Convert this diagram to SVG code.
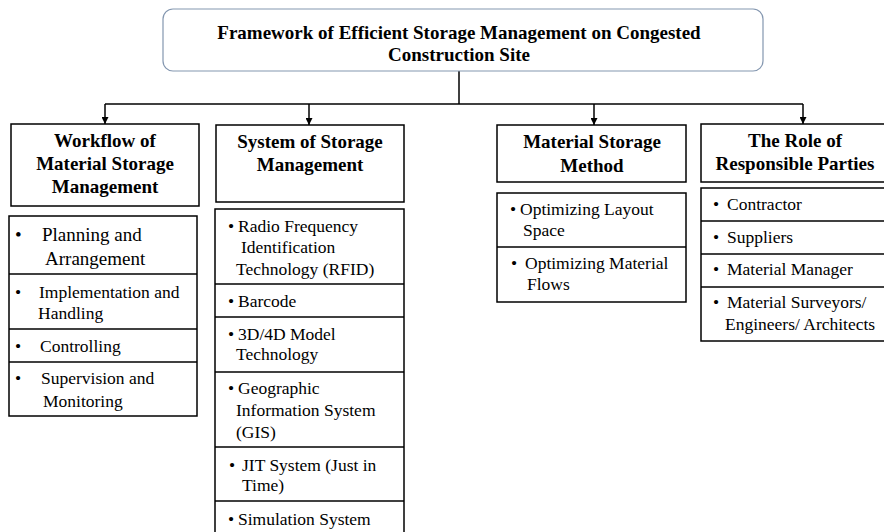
<svg xmlns="http://www.w3.org/2000/svg" width="884" height="532" viewBox="0 0 884 532">
<defs>
<style>
.box{fill:#fff;stroke:#000;stroke-width:1.5}
.top{fill:#fff;stroke:#8497b0;stroke-width:1.2}
.div{stroke:#000;stroke-width:1.5}
.hd{font-family:"Liberation Serif","Times New Roman",serif;font-weight:bold;font-size:19px;fill:#000;text-anchor:middle}
.it{font-family:"Liberation Serif","Times New Roman",serif;font-size:17.5px;fill:#000}
.big{font-size:19px}
.con{stroke:#000;stroke-width:1.5;fill:none}
</style>
<marker id="ah" viewBox="0 0 10 10" refX="10" refY="5" markerWidth="7" markerHeight="7" markerUnits="userSpaceOnUse" orient="auto">
<path d="M0,0 L10,5 L0,10 z" fill="#000"/>
</marker>
</defs>
<rect width="884" height="532" fill="#fff"/>

<g id="connectors">
<line class="con" x1="459" y1="71" x2="459" y2="104"/>
<line class="con" x1="105" y1="104" x2="803" y2="104"/>
<line class="con" x1="105" y1="104" x2="105" y2="124" marker-end="url(#ah)"/>
<line class="con" x1="309" y1="104" x2="309" y2="125" marker-end="url(#ah)"/>
<line class="con" x1="594" y1="104" x2="594" y2="125" marker-end="url(#ah)"/>
<line class="con" x1="803" y1="104" x2="803" y2="124" marker-end="url(#ah)"/>
</g>

<g id="title">
<rect class="top" x="163" y="9" width="600" height="62" rx="10"/>
<text class="hd" x="459" y="39">Framework of Efficient Storage Management on Congested</text>
<text class="hd" x="459" y="61">Construction Site</text>
</g>

<g id="workflow">
<rect class="box" x="11" y="124" width="188" height="82"/>
<text class="hd" x="105" y="147">Workflow of</text>
<text class="hd" x="105" y="170">Material Storage</text>
<text class="hd" x="105" y="193">Management</text>
</g>
<g id="workflow-items">
<rect class="box" x="9" y="216" width="188" height="200"/>
<line class="div" x1="9" y1="274" x2="197" y2="274"/>
<line class="div" x1="9" y1="329" x2="197" y2="329"/>
<line class="div" x1="9" y1="362" x2="197" y2="362"/>
<text class="it big" y="241"><tspan x="15">•</tspan><tspan x="42">Planning and</tspan></text>
<text class="it big" x="45" y="265">Arrangement</text>
<text class="it" y="298"><tspan x="15">•</tspan><tspan x="39">Implementation and</tspan></text>
<text class="it" x="38" y="319">Handling</text>
<text class="it" y="352"><tspan x="15">•</tspan><tspan x="40">Controlling</tspan></text>
<text class="it" y="384"><tspan x="15">•</tspan><tspan x="41">Supervision and</tspan></text>
<text class="it" x="43" y="407">Monitoring</text>
</g>

<g id="system">
<rect class="box" x="216" y="125" width="188" height="77"/>
<text class="hd" x="310" y="148">System of Storage</text>
<text class="hd" x="310" y="171">Management</text>
</g>
<g id="system-items">
<rect class="box" x="215" y="209" width="189" height="340"/>
<line class="div" x1="215" y1="284" x2="404" y2="284"/>
<line class="div" x1="215" y1="317" x2="404" y2="317"/>
<line class="div" x1="215" y1="372" x2="404" y2="372"/>
<line class="div" x1="215" y1="447" x2="404" y2="447"/>
<line class="div" x1="215" y1="501" x2="404" y2="501"/>
<text class="it" y="232"><tspan x="228">•</tspan><tspan x="238">Radio Frequency</tspan></text>
<text class="it" x="241" y="253">Identification</text>
<text class="it" x="236" y="275">Technology (RFID)</text>
<text class="it" y="307"><tspan x="228">•</tspan><tspan x="238">Barcode</tspan></text>
<text class="it" y="340"><tspan x="228">•</tspan><tspan x="238">3D/4D Model</tspan></text>
<text class="it" x="236" y="360">Technology</text>
<text class="it" y="394"><tspan x="228">•</tspan><tspan x="238">Geographic</tspan></text>
<text class="it" x="236" y="416">Information System</text>
<text class="it" x="236" y="438">(GIS)</text>
<text class="it" y="471"><tspan x="229">•</tspan><tspan x="242">JIT System (Just in</tspan></text>
<text class="it" x="242" y="491">Time)</text>
<text class="it" y="525"><tspan x="228">•</tspan><tspan x="238">Simulation System</tspan></text>
</g>

<g id="method">
<rect class="box" x="497" y="125" width="189" height="57"/>
<text class="hd" x="592" y="148">Material Storage</text>
<text class="hd" x="592" y="172">Method</text>
</g>
<g id="method-items">
<rect class="box" x="497" y="193" width="189" height="109"/>
<line class="div" x1="497" y1="247" x2="686" y2="247"/>
<text class="it" y="215"><tspan x="510">•</tspan><tspan x="520">Optimizing Layout</tspan></text>
<text class="it" x="523" y="236">Space</text>
<text class="it" y="269"><tspan x="511">•</tspan><tspan x="525">Optimizing Material</tspan></text>
<text class="it" x="527" y="290">Flows</text>
</g>

<g id="roles">
<rect class="box" x="701" y="124" width="190" height="58"/>
<text class="hd" x="795" y="147">The Role of</text>
<text class="hd" x="795" y="170">Responsible Parties</text>
</g>
<g id="roles-items">
<rect class="box" x="701" y="188" width="190" height="153"/>
<line class="div" x1="701" y1="221" x2="891" y2="221"/>
<line class="div" x1="701" y1="254" x2="891" y2="254"/>
<line class="div" x1="701" y1="287" x2="891" y2="287"/>
<text class="it" y="210"><tspan x="713">•</tspan><tspan x="727">Contractor</tspan></text>
<text class="it" y="243"><tspan x="713">•</tspan><tspan x="727">Suppliers</tspan></text>
<text class="it" y="275"><tspan x="713">•</tspan><tspan x="727">Material Manager</tspan></text>
<text class="it" y="308"><tspan x="713">•</tspan><tspan x="727">Material Surveyors/</tspan></text>
<text class="it" x="725" y="330">Engineers/ Architects</text>
</g>
</svg>
